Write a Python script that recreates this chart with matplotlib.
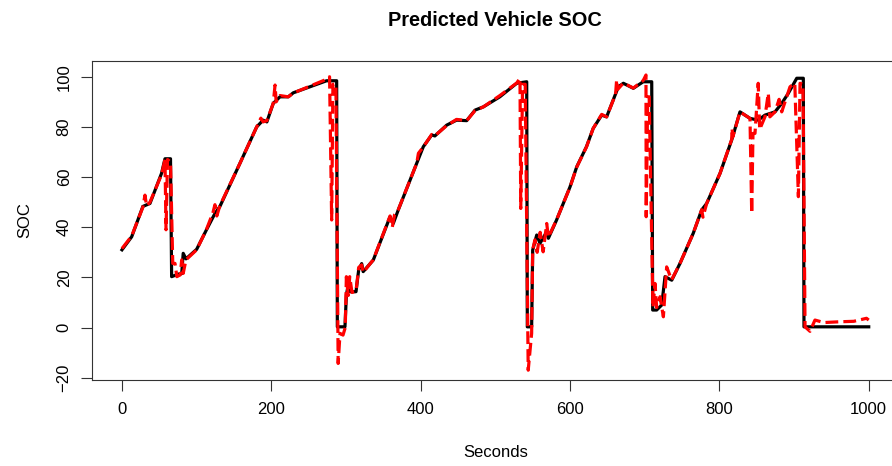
import matplotlib
matplotlib.use("Agg")
import matplotlib.pyplot as plt

plt.rcParams['font.family'] = ['Liberation Sans', 'DejaVu Sans']

actual_t = [0, 13, 28, 37.5, 53, 57.6, 65, 66.5, 75.4, 80, 82, 85.7, 100, 113, 124.5, 131,
            158, 180.4, 189, 194, 202.6, 211.6, 222.7, 229.4, 274, 287.5, 288.4, 298.6,
            300.5, 303, 305.3, 313.4, 317, 321, 323, 336.5, 359, 363.3, 370, 394.7, 403.5,
            414.8, 419, 434.8, 448, 461.6, 472.8, 484, 506, 528.6, 542, 542.8, 548.6,
            550, 555.4, 559.8, 568.8, 571, 582, 600, 609, 622, 631, 642.4, 649, 664.7,
            671.4, 684.8, 698, 709.4, 710.7, 716, 722.8, 727.2, 736.2, 747.3, 765, 776.3,
            783, 800.9, 816.5, 827.6, 841, 852, 861, 874.5, 883.5, 892.3, 903.6, 912.4,
            913.3, 1000]
actual_soc = [31, 36.2, 48.3, 49.5, 61.5, 67.3, 67.3, 20.3, 21.3, 21.5, 29.6, 27.4, 31.2, 38.9, 45.5, 48.2,
              65.5, 80, 82.7, 82, 89.4, 92, 92, 93.6, 98.4, 98.4, 0.3, 0.3,
              13, 17, 14.3, 14.3, 23, 25.5, 22.3, 26.9, 44.2, 41.5, 46.9, 65.5, 72.1,
              76.8, 76.4, 80.7, 82.7, 82.5, 86.7, 88, 92, 97.4, 98, 0.3, 0.3,
              30.9, 36.9, 33.6, 38.2, 35.6, 42.9, 56.1, 64.1, 72.1, 79.4, 84.7, 84, 96,
              97.4, 95.4, 98, 98, 7, 7, 9, 20.3, 18.9, 25.6, 37.6, 46.9,
              49.5, 61.5, 74.8, 86, 83.4, 82.7, 84.7, 86, 89.4, 93.4, 99.4, 99.4,
              0.3, 0.3]

# predicted SOC (red dashed line)
pred_t = [0, 13, 28, 30.8, 33, 37.5, 53, 57.6, 59, 61, 65, 68, 71, 73.5, 78, 80, 82, 85.7,
          100, 113, 122, 124.5, 127, 131, 158, 180.4, 186, 189, 194, 202.6, 205, 206.5,
          211.6, 222.7, 229.4, 274, 278, 280.8, 282.5, 286.5, 289.5, 292, 296, 299,
          300.5, 303, 305, 308, 313.4, 317, 321, 323, 336.5, 359, 362, 365, 370, 394.7,
          397, 403.5, 414.8, 419, 434.8, 448, 461.6, 472.8, 484, 506, 528.6, 533, 534,
          536.5, 540, 544, 548.6, 550, 553, 556, 560, 564, 568.8, 571, 582, 600, 609,
          622, 631, 642.4, 649, 661, 662.4, 664, 671.4, 684.8, 698, 701.7, 702, 704,
          706, 711, 713.8, 716, 720.5, 725, 729.4, 736, 747.3, 765, 776.3, 778, 783,
          800.9, 816.5, 817, 818, 827.6, 841, 843.3, 845, 847.7, 852, 854, 861, 865.5,
          867.6, 874.5, 880, 883.5, 892.3, 894.6, 901, 905.8, 908, 912, 914.7, 921.4,
          928, 940, 960, 980, 997, 1000]
pred_soc = [31.5, 36.5, 48, 52.8, 48.5, 50, 61, 67, 39, 67, 66, 25.6, 25.6, 20.3, 21, 27, 21.6, 27,
            31, 39, 46, 49, 44.5, 48.5, 65.5, 80, 83.5, 82, 82.5, 89.4, 96.7, 90,
            92.5, 92, 93.5, 99, 100, 42.9, 97, 97, -14.3, -2.3, -3, 0,
            20.3, 12.8, 20.3, 14, 14.5, 24, 25, 22, 27, 44.5, 40, 45, 47, 65.5,
            69.5, 72, 77, 76.5, 80.5, 83, 82.5, 86.5, 88, 92.5, 97.5, 99.4, 47.5,
            97, 97, -17, -2.3, 31, 35, 30, 38, 30.2, 41.5, 36, 43, 56, 64,
            72, 79.4, 85, 84, 93, 98.7, 95, 97.5, 95.5, 98.5, 100.7, 44.2, 92,
            92, 8, 17.6, 8, 12.3, 4.3, 24.2, 19, 25.6, 37.6, 47, 44, 49.5,
            61.5, 75, 79.4, 76, 86, 83.4, 45.5, 77.4, 77.4, 97.4, 79, 84, 93.4,
            84, 86, 91, 86, 94, 96, 97.4, 52.2, 97.4, 97, 0.3, -1.5,
            3, 2, 2.3, 2.5, 3.7, 3]

fig = plt.figure(figsize=(8.92, 4.66), dpi=100)
ax = fig.add_axes([92.1 / 892, 86 / 466, 806.5 / 892, 319.3 / 466])

ax.plot(actual_t, actual_soc, color='black', lw=2.3, solid_joinstyle='round')
ax.plot(pred_t, pred_soc, color='red', lw=2.3, dashes=(4, 1.6))

ax.set_xlim(-40, 1040)
ax.set_ylim(-20.9, 106.4)
ax.set_xticks(range(0, 1001, 200))
ax.set_yticks(range(-20, 101, 20))
ax.tick_params(axis='both', direction='out', length=7.7, width=0.8, labelsize=12, color='#333333')
ax.tick_params(axis='x', pad=8)
ax.tick_params(axis='y', pad=7)
for lab in ax.get_yticklabels():
    lab.set_rotation(90)
    lab.set_va('center')
for s in ax.spines.values():
    s.set_linewidth(0.8)
    s.set_color('#333333')

ax.set_title('Predicted Vehicle SOC', fontsize=14.4, fontweight='bold', pad=25)
ax.set_xlabel('Seconds', fontsize=12, va='center')
ax.xaxis.set_label_coords(0.5, -0.2286)
ax.set_ylabel('SOC', fontsize=12, va='center')
ax.yaxis.set_label_coords(-0.0832, 0.5)

fig.savefig('out.png', dpi=100)
